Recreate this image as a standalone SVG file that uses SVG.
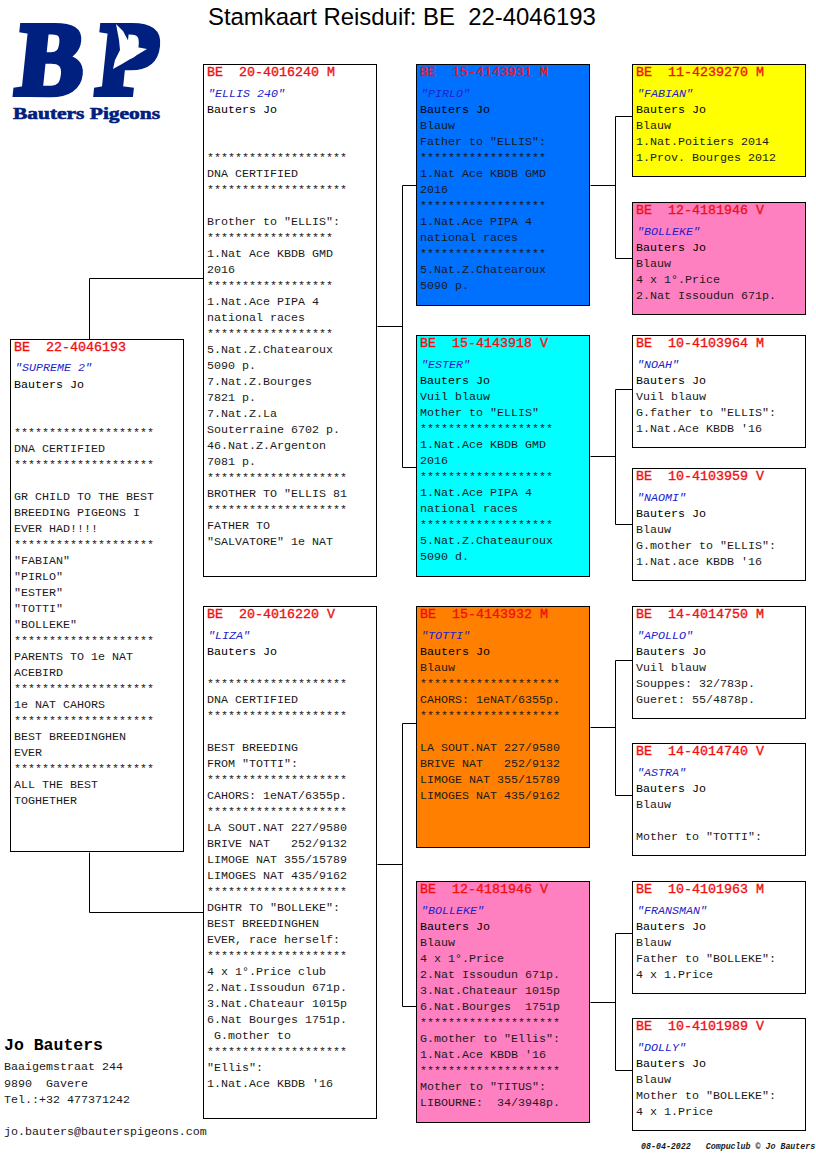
<svg xmlns="http://www.w3.org/2000/svg" width="816" height="1172" viewBox="0 0 816 1172">
<style>
text{font-family:"Liberation Mono","Courier New",monospace;font-size:11.67px;fill:#1a1a1a;white-space:pre}
.box{stroke:#000;stroke-width:1;transform:translate(.5px,.5px)}
.h{fill:#f01010;stroke:#f01010;stroke-width:.35px;font-size:13.33px}
.n{fill:#2222cc;font-style:italic}
.o{fill:#000}
.c{fill:none;stroke:#000;stroke-width:1;transform:translate(.5px,.5px)}
.t{font-family:"Liberation Sans",Arial,sans-serif;font-size:23.9px;fill:#000}
.logo{font-family:"Liberation Serif","Times New Roman",serif;font-weight:bold;fill:#00207f;stroke:#00207f}
</style>
<rect width="816" height="1172" fill="#fff"/>
<text class="t" x="208" y="25">Stamkaart Reisduif: BE  22-4046193</text>
<g id="logo">
<text class="logo" transform="translate(14,94) skewX(-6) scale(.96,1)" style="font-size:104px;stroke-width:6px">B</text>
<text class="logo" transform="translate(94,94) skewX(-6) scale(.96,1)" style="font-size:104px;stroke-width:6px">P</text>
<text class="logo" transform="translate(13,119) scale(1.3,1)" style="font-size:16.5px;stroke-width:.6px">Bauters Pigeons</text>
<path d="M116 24L123 31L131 46L147 49L132 58L122 64L113 69L115 60L120 50L119 40Z" fill="#fff"/>
</g>
<g id="connectors">
<path class="c" d="M203 278H89V339M89 852V912H203"/>
<path class="c" d="M377 326H402M416 185H402V467H416"/>
<path class="c" d="M377 864H402M416 723H402V1006H416"/>
<path class="c" d="M590 185H615M632 116H615V258H632"/>
<path class="c" d="M590 456H615M632 389H615V524H632"/>
<path class="c" d="M590 727H615M632 660H615V795H632"/>
<path class="c" d="M590 1002H615M632 933H615V1070H632"/>
</g>
<g id="root"><rect class="box" x="10" y="339" width="173" height="512" fill="#fff"/>
<text x="14" y="351" class="h">BE  22-4046193</text>
<text x="15" y="371" class="n">"SUPREME 2"</text>
<text x="14" y="388" class="o">Bauters Jo</text>
<text x="14" y="436">********************</text>
<text x="14" y="452">DNA CERTIFIED</text>
<text x="14" y="468">********************</text>
<text x="14" y="500">GR CHILD TO THE BEST</text>
<text x="14" y="516">BREEDING PIGEONS I</text>
<text x="14" y="532">EVER HAD!!!!</text>
<text x="14" y="548">********************</text>
<text x="14" y="564">"FABIAN"</text>
<text x="14" y="580">"PIRLO"</text>
<text x="14" y="596">"ESTER"</text>
<text x="14" y="612">"TOTTI"</text>
<text x="14" y="628">"BOLLEKE"</text>
<text x="14" y="644">********************</text>
<text x="14" y="660">PARENTS TO 1e NAT</text>
<text x="14" y="676">ACEBIRD</text>
<text x="14" y="692">********************</text>
<text x="14" y="708">1e NAT CAHORS</text>
<text x="14" y="724">********************</text>
<text x="14" y="740">BEST BREEDINGHEN</text>
<text x="14" y="756">EVER</text>
<text x="14" y="772">********************</text>
<text x="14" y="788">ALL THE BEST</text>
<text x="14" y="804">TOGHETHER</text>
</g>
<g id="sire"><rect class="box" x="203" y="64" width="173" height="512" fill="#fff"/>
<text x="207" y="76" class="h">BE  20-4016240 M</text>
<text x="208" y="97" class="n">"ELLIS 240"</text>
<text x="207" y="113" class="o">Bauters Jo</text>
<text x="207" y="161">********************</text>
<text x="207" y="177">DNA CERTIFIED</text>
<text x="207" y="193">********************</text>
<text x="207" y="225">Brother to "ELLIS":</text>
<text x="207" y="241">******************</text>
<text x="207" y="257">1.Nat Ace KBDB GMD</text>
<text x="207" y="273">2016</text>
<text x="207" y="289">******************</text>
<text x="207" y="305">1.Nat.Ace PIPA 4</text>
<text x="207" y="321">national races</text>
<text x="207" y="337">******************</text>
<text x="207" y="353">5.Nat.Z.Chatearoux</text>
<text x="207" y="369">5090 p.</text>
<text x="207" y="385">7.Nat.Z.Bourges</text>
<text x="207" y="401">7821 p.</text>
<text x="207" y="417">7.Nat.Z.La</text>
<text x="207" y="433">Souterraine 6702 p.</text>
<text x="207" y="449">46.Nat.Z.Argenton</text>
<text x="207" y="465">7081 p.</text>
<text x="207" y="481">********************</text>
<text x="207" y="497">BROTHER TO "ELLIS 81</text>
<text x="207" y="513">********************</text>
<text x="207" y="529">FATHER TO</text>
<text x="207" y="545">"SALVATORE" 1e NAT</text>
</g>
<g id="dam"><rect class="box" x="203" y="606" width="173" height="512" fill="#fff"/>
<text x="207" y="618" class="h">BE  20-4016220 V</text>
<text x="208" y="639" class="n">"LIZA"</text>
<text x="207" y="655" class="o">Bauters Jo</text>
<text x="207" y="687">********************</text>
<text x="207" y="703">DNA CERTIFIED</text>
<text x="207" y="719">********************</text>
<text x="207" y="751">BEST BREEDING</text>
<text x="207" y="767">FROM "TOTTI":</text>
<text x="207" y="783">********************</text>
<text x="207" y="799">CAHORS: 1eNAT/6355p.</text>
<text x="207" y="815">********************</text>
<text x="207" y="831">LA SOUT.NAT 227/9580</text>
<text x="207" y="847">BRIVE NAT   252/9132</text>
<text x="207" y="863">LIMOGE NAT 355/15789</text>
<text x="207" y="879">LIMOGES NAT 435/9162</text>
<text x="207" y="895">********************</text>
<text x="207" y="911">DGHTR TO "BOLLEKE":</text>
<text x="207" y="927">BEST BREEDINGHEN</text>
<text x="207" y="943">EVER, race herself:</text>
<text x="207" y="959">********************</text>
<text x="207" y="975">4 x 1°.Price club</text>
<text x="207" y="991">2.Nat.Issoudun 671p.</text>
<text x="207" y="1007">3.Nat.Chateaur 1015p</text>
<text x="207" y="1023">6.Nat Bourges 1751p.</text>
<text x="207" y="1039"> G.mother to</text>
<text x="207" y="1055">********************</text>
<text x="207" y="1071">"Ellis":</text>
<text x="207" y="1087">1.Nat.Ace KBDB '16</text>
</g>
<g id="ss"><rect class="box" x="416" y="64" width="173" height="241" fill="#0070ff"/>
<text x="420" y="76" class="h">BE  15-4143931 M</text>
<text x="421" y="97" class="n">"PIRLO"</text>
<text x="420" y="113" class="o">Bauters Jo</text>
<text x="420" y="129">Blauw</text>
<text x="420" y="145">Father to "ELLIS":</text>
<text x="420" y="161">******************</text>
<text x="420" y="177">1.Nat Ace KBDB GMD</text>
<text x="420" y="193">2016</text>
<text x="420" y="209">******************</text>
<text x="420" y="225">1.Nat.Ace PIPA 4</text>
<text x="420" y="241">national races</text>
<text x="420" y="257">******************</text>
<text x="420" y="273">5.Nat.Z.Chatearoux</text>
<text x="420" y="289">5090 p.</text>
</g>
<g id="sd"><rect class="box" x="416" y="335" width="173" height="241" fill="#00ffff"/>
<text x="420" y="347" class="h">BE  15-4143918 V</text>
<text x="421" y="368" class="n">"ESTER"</text>
<text x="420" y="384" class="o">Bauters Jo</text>
<text x="420" y="400">Vuil blauw</text>
<text x="420" y="416">Mother to "ELLIS"</text>
<text x="420" y="432">*******************</text>
<text x="420" y="448">1.Nat.Ace KBDB GMD</text>
<text x="420" y="464">2016</text>
<text x="420" y="480">*******************</text>
<text x="420" y="496">1.Nat.Ace PIPA 4</text>
<text x="420" y="512">national races</text>
<text x="420" y="528">*******************</text>
<text x="420" y="544">5.Nat.Z.Chateauroux</text>
<text x="420" y="560">5090 d.</text>
</g>
<g id="ds"><rect class="box" x="416" y="606" width="173" height="241" fill="#ff8000"/>
<text x="420" y="618" class="h">BE  15-4143932 M</text>
<text x="421" y="639" class="n">"TOTTI"</text>
<text x="420" y="655" class="o">Bauters Jo</text>
<text x="420" y="671">Blauw</text>
<text x="420" y="687">********************</text>
<text x="420" y="703">CAHORS: 1eNAT/6355p.</text>
<text x="420" y="719">********************</text>
<text x="420" y="751">LA SOUT.NAT 227/9580</text>
<text x="420" y="767">BRIVE NAT   252/9132</text>
<text x="420" y="783">LIMOGE NAT 355/15789</text>
<text x="420" y="799">LIMOGES NAT 435/9162</text>
</g>
<g id="dd"><rect class="box" x="416" y="881" width="173" height="241" fill="#ff80c0"/>
<text x="420" y="893" class="h">BE  12-4181946 V</text>
<text x="421" y="914" class="n">"BOLLEKE"</text>
<text x="420" y="930" class="o">Bauters Jo</text>
<text x="420" y="946">Blauw</text>
<text x="420" y="962">4 x 1°.Price</text>
<text x="420" y="978">2.Nat Issoudun 671p.</text>
<text x="420" y="994">3.Nat.Chateaur 1015p</text>
<text x="420" y="1010">6.Nat.Bourges  1751p</text>
<text x="420" y="1026">********************</text>
<text x="420" y="1042">G.mother to "Ellis":</text>
<text x="420" y="1058">1.Nat.Ace KBDB '16</text>
<text x="420" y="1074">********************</text>
<text x="420" y="1090">Mother to "TITUS":</text>
<text x="420" y="1106">LIBOURNE:  34/3948p.</text>
</g>
<g id="sss"><rect class="box" x="632" y="64" width="173" height="112" fill="#ffff00"/>
<text x="636" y="76" class="h">BE  11-4239270 M</text>
<text x="637" y="97" class="n">"FABIAN"</text>
<text x="636" y="113" class="o">Bauters Jo</text>
<text x="636" y="129">Blauw</text>
<text x="636" y="145">1.Nat.Poitiers 2014</text>
<text x="636" y="161">1.Prov. Bourges 2012</text>
</g>
<g id="ssd"><rect class="box" x="632" y="202" width="173" height="112" fill="#ff80c0"/>
<text x="636" y="214" class="h">BE  12-4181946 V</text>
<text x="637" y="235" class="n">"BOLLEKE"</text>
<text x="636" y="251" class="o">Bauters Jo</text>
<text x="636" y="267">Blauw</text>
<text x="636" y="283">4 x 1°.Price</text>
<text x="636" y="299">2.Nat Issoudun 671p.</text>
</g>
<g id="sds"><rect class="box" x="632" y="335" width="173" height="112" fill="#fff"/>
<text x="636" y="347" class="h">BE  10-4103964 M</text>
<text x="637" y="368" class="n">"NOAH"</text>
<text x="636" y="384" class="o">Bauters Jo</text>
<text x="636" y="400">Vuil blauw</text>
<text x="636" y="416">G.father to "ELLIS":</text>
<text x="636" y="432">1.Nat.Ace KBDB '16</text>
</g>
<g id="sdd"><rect class="box" x="632" y="468" width="173" height="112" fill="#fff"/>
<text x="636" y="480" class="h">BE  10-4103959 V</text>
<text x="637" y="501" class="n">"NAOMI"</text>
<text x="636" y="517" class="o">Bauters Jo</text>
<text x="636" y="533">Blauw</text>
<text x="636" y="549">G.mother to "ELLIS":</text>
<text x="636" y="565">1.Nat.ace KBDB '16</text>
</g>
<g id="dss"><rect class="box" x="632" y="606" width="173" height="112" fill="#fff"/>
<text x="636" y="618" class="h">BE  14-4014750 M</text>
<text x="637" y="639" class="n">"APOLLO"</text>
<text x="636" y="655" class="o">Bauters Jo</text>
<text x="636" y="671">Vuil blauw</text>
<text x="636" y="687">Souppes: 32/783p.</text>
<text x="636" y="703">Gueret: 55/4878p.</text>
</g>
<g id="dsd"><rect class="box" x="632" y="743" width="173" height="112" fill="#fff"/>
<text x="636" y="755" class="h">BE  14-4014740 V</text>
<text x="637" y="776" class="n">"ASTRA"</text>
<text x="636" y="792" class="o">Bauters Jo</text>
<text x="636" y="808">Blauw</text>
<text x="636" y="840">Mother to "TOTTI":</text>
</g>
<g id="dds"><rect class="box" x="632" y="881" width="173" height="112" fill="#fff"/>
<text x="636" y="893" class="h">BE  10-4101963 M</text>
<text x="637" y="914" class="n">"FRANSMAN"</text>
<text x="636" y="930" class="o">Bauters Jo</text>
<text x="636" y="946">Blauw</text>
<text x="636" y="962">Father to "BOLLEKE":</text>
<text x="636" y="978">4 x 1.Price</text>
</g>
<g id="ddd"><rect class="box" x="632" y="1018" width="173" height="112" fill="#fff"/>
<text x="636" y="1030" class="h">BE  10-4101989 V</text>
<text x="637" y="1051" class="n">"DOLLY"</text>
<text x="636" y="1067" class="o">Bauters Jo</text>
<text x="636" y="1083">Blauw</text>
<text x="636" y="1099">Mother to "BOLLEKE":</text>
<text x="636" y="1115">4 x 1.Price</text>
</g>
<g id="contact">
<text x="4" y="1050" class="o" style="font-weight:bold;font-size:16.5px">Jo Bauters</text>
<text x="4" y="1070">Baaigemstraat 244</text>
<text x="4" y="1087">9890  Gavere</text>
<text x="4" y="1103">Tel.:+32 477371242</text>
<text x="4" y="1135">jo.bauters@bauterspigeons.com</text>
</g>
<text x="641" y="1149" style="font-size:8.3px;font-style:italic;font-weight:bold">08-04-2022   Compuclub © Jo Bauters</text>
</svg>
